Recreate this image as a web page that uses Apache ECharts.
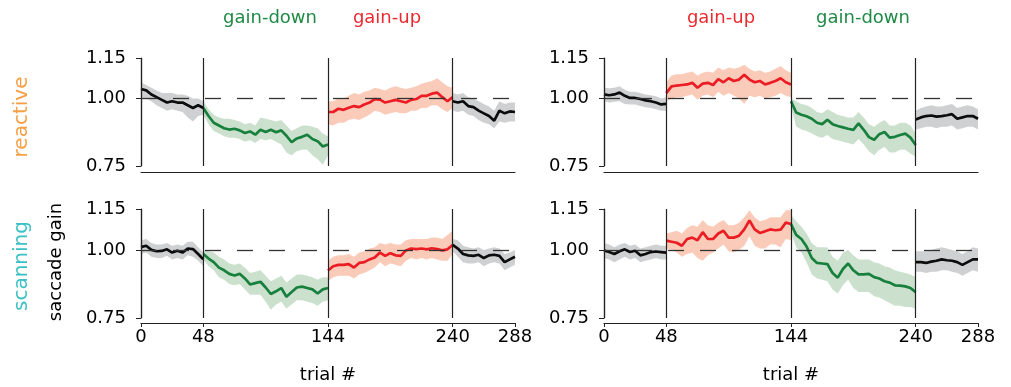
<!DOCTYPE html>
<html>
<head>
<meta charset="utf-8">
<script src="https://cdn.jsdelivr.net/npm/echarts@6/dist/echarts.min.js"></script>
<style>
  html, body { margin: 0; padding: 0; background: #fff; }
  #chart { width: 1011px; height: 387px; }
</style>
</head>
<body>
<div id="chart"></div>
<script>
// trial numbers of the sampled points in each block
const xBase1 = [0, 4, 8, 12, 16, 20, 24, 28, 32, 36, 40, 44, 48];
const xShift1 = [48, 52, 56, 60, 64, 68, 72, 76, 80, 84, 88, 92, 96, 100, 104, 108, 112, 116, 120, 124, 128, 132, 136, 140, 144];
const xShift2 = [144, 148, 152, 156, 160, 164, 168, 172, 176, 180, 184, 188, 192, 196, 200, 204, 208, 212, 216, 220, 224, 228, 232, 236, 240];
const xBase2 = [240, 244, 248, 252, 256, 260, 264, 268, 272, 276, 280, 284, 288];

const xTicks = [0, 48, 144, 240, 288];
const yTicks = [0.75, 1.00, 1.15];

// reactive, gain-down then gain-up (top left)
const rdBase1Mean = [1.035, 1.03, 1.015, 1.005, 0.995, 0.985, 0.99, 0.985, 0.985, 0.975, 0.965, 0.975, 0.965];
const rdBase1Lo = [1.005, 1.0, 0.99, 0.975, 0.965, 0.955, 0.96, 0.955, 0.95, 0.93, 0.915, 0.935, 0.94];
const rdBase1Hi = [1.06, 1.05, 1.04, 1.03, 1.02, 1.02, 1.02, 1.015, 1.015, 1.01, 1.0, 1.0, 0.99];
const rdDownMean = [0.965, 0.935, 0.91, 0.9, 0.89, 0.885, 0.888, 0.882, 0.872, 0.878, 0.866, 0.884, 0.876, 0.884, 0.875, 0.882, 0.862, 0.838, 0.852, 0.858, 0.866, 0.85, 0.842, 0.822, 0.83];
const rdDownLo = [0.94, 0.905, 0.88, 0.87, 0.86, 0.855, 0.855, 0.85, 0.84, 0.845, 0.835, 0.85, 0.845, 0.85, 0.84, 0.83, 0.8, 0.79, 0.805, 0.81, 0.81, 0.79, 0.775, 0.755, 0.79];
const rdDownHi = [0.99, 0.96, 0.94, 0.93, 0.925, 0.925, 0.92, 0.915, 0.905, 0.91, 0.9, 0.93, 0.925, 0.92, 0.915, 0.92, 0.9, 0.88, 0.89, 0.9, 0.9, 0.895, 0.89, 0.87, 0.86];
const rdUpMean = [0.95, 0.95, 0.962, 0.958, 0.966, 0.972, 0.968, 0.978, 0.985, 0.998, 0.996, 0.985, 0.99, 0.995, 0.99, 0.985, 0.995, 0.998, 1.01, 1.01, 1.018, 1.022, 1.005, 0.99, 1.005];
const rdUpLo = [0.905, 0.9, 0.91, 0.91, 0.92, 0.925, 0.92, 0.93, 0.94, 0.955, 0.95, 0.94, 0.945, 0.95, 0.945, 0.945, 0.955, 0.955, 0.965, 0.965, 0.975, 0.975, 0.96, 0.95, 0.965];
const rdUpHi = [0.99, 0.99, 1.0, 1.0, 1.01, 1.02, 1.015, 1.025, 1.03, 1.04, 1.035, 1.03, 1.04, 1.045, 1.04, 1.035, 1.04, 1.045, 1.055, 1.06, 1.065, 1.075, 1.06, 1.045, 1.04];
const rdBase2Mean = [0.99, 0.985, 0.99, 0.972, 0.968, 0.955, 0.945, 0.935, 0.918, 0.955, 0.945, 0.952, 0.95];
const rdBase2Lo = [0.955, 0.95, 0.955, 0.94, 0.935, 0.92, 0.91, 0.905, 0.89, 0.915, 0.91, 0.915, 0.915];
const rdBase2Hi = [1.02, 1.015, 1.02, 1.005, 1.0, 0.99, 0.98, 0.97, 0.955, 0.99, 0.98, 0.985, 0.985];

// reactive, gain-up then gain-down (top right)
const ruBase1Mean = [1.015, 1.012, 1.015, 1.022, 1.01, 1.002, 1.002, 0.998, 0.993, 0.99, 0.985, 0.978, 0.98];
const ruBase1Lo = [0.99, 0.985, 0.988, 0.99, 0.98, 0.978, 0.978, 0.972, 0.968, 0.965, 0.96, 0.955, 0.955];
const ruBase1Hi = [1.04, 1.038, 1.04, 1.045, 1.032, 1.025, 1.025, 1.02, 1.015, 1.012, 1.008, 1.0, 1.005];
const ruUpMean = [1.02, 1.045, 1.048, 1.05, 1.052, 1.058, 1.04, 1.055, 1.058, 1.05, 1.072, 1.06, 1.075, 1.065, 1.07, 1.088, 1.07, 1.06, 1.065, 1.052, 1.058, 1.065, 1.075, 1.06, 1.052];
const ruUpLo = [0.99, 1.0, 1.005, 1.005, 1.01, 1.015, 0.995, 1.01, 1.015, 1.005, 1.025, 1.01, 1.02, 1.01, 1.0, 0.98, 1.01, 1.005, 1.01, 1.0, 1.005, 1.01, 1.02, 1.01, 1.005];
const ruUpHi = [1.06, 1.085, 1.09, 1.09, 1.095, 1.1, 1.085, 1.095, 1.1, 1.095, 1.115, 1.105, 1.115, 1.11, 1.115, 1.125, 1.11, 1.1, 1.105, 1.095, 1.1, 1.11, 1.12, 1.105, 1.095];
const ruDownMean = [0.99, 0.948, 0.94, 0.934, 0.925, 0.91, 0.905, 0.921, 0.905, 0.898, 0.893, 0.888, 0.884, 0.908, 0.884, 0.857, 0.847, 0.868, 0.876, 0.855, 0.858, 0.865, 0.87, 0.855, 0.828];
const ruDownLo = [0.97, 0.895, 0.885, 0.88, 0.87, 0.86, 0.855, 0.865, 0.85, 0.845, 0.84, 0.835, 0.83, 0.85, 0.83, 0.805, 0.79, 0.81, 0.82, 0.8, 0.8, 0.81, 0.81, 0.795, 0.785];
const ruDownHi = [1.0, 0.99, 0.98, 0.975, 0.965, 0.95, 0.945, 0.96, 0.95, 0.94, 0.935, 0.93, 0.93, 0.95, 0.93, 0.905, 0.895, 0.91, 0.92, 0.9, 0.9, 0.91, 0.91, 0.9, 0.87];
const ruBase2Mean = [0.922, 0.93, 0.935, 0.937, 0.933, 0.935, 0.938, 0.942, 0.925, 0.93, 0.935, 0.935, 0.925];
const ruBase2Lo = [0.885, 0.89, 0.895, 0.895, 0.89, 0.895, 0.895, 0.9, 0.885, 0.89, 0.895, 0.895, 0.885];
const ruBase2Hi = [0.955, 0.965, 0.97, 0.975, 0.97, 0.97, 0.975, 0.98, 0.965, 0.97, 0.975, 0.97, 0.96];

// scanning, gain-down then gain-up (bottom left)
const sdBase1Mean = [1.01, 1.015, 1.0, 0.995, 0.996, 1.002, 0.99, 0.997, 0.99, 1.005, 1.003, 0.985, 0.965];
const sdBase1Lo = [0.985, 0.99, 0.975, 0.97, 0.97, 0.978, 0.965, 0.97, 0.965, 0.98, 0.975, 0.96, 0.94];
const sdBase1Hi = [1.035, 1.04, 1.025, 1.02, 1.02, 1.025, 1.015, 1.02, 1.015, 1.03, 1.03, 1.01, 0.99];
const sdDownMean = [0.985, 0.968, 0.955, 0.935, 0.925, 0.912, 0.906, 0.912, 0.895, 0.873, 0.878, 0.883, 0.862, 0.838, 0.848, 0.86, 0.828, 0.845, 0.862, 0.865, 0.86, 0.855, 0.84, 0.855, 0.86];
const sdDownLo = [0.965, 0.94, 0.925, 0.9, 0.89, 0.875, 0.87, 0.875, 0.855, 0.835, 0.835, 0.835, 0.81, 0.78, 0.8, 0.81, 0.785, 0.8, 0.815, 0.815, 0.81, 0.805, 0.795, 0.81, 0.815];
const sdDownHi = [1.0, 0.995, 0.99, 0.975, 0.965, 0.95, 0.945, 0.95, 0.935, 0.915, 0.92, 0.925, 0.905, 0.885, 0.895, 0.905, 0.88, 0.895, 0.91, 0.91, 0.905, 0.9, 0.89, 0.9, 0.9];
const sdUpMean = [0.924, 0.94, 0.945, 0.945, 0.948, 0.935, 0.952, 0.955, 0.965, 0.972, 0.99, 0.978, 0.988, 0.98, 0.978, 0.998, 1.005, 1.003, 1.005, 1.002, 1.006, 1.003, 0.998, 1.002, 1.018];
const sdUpLo = [0.885, 0.9, 0.905, 0.905, 0.905, 0.895, 0.91, 0.915, 0.925, 0.935, 0.955, 0.94, 0.95, 0.945, 0.94, 0.96, 0.97, 0.965, 0.97, 0.965, 0.97, 0.965, 0.96, 0.96, 0.985];
const sdUpHi = [0.96, 0.975, 0.98, 0.98, 0.985, 0.975, 0.99, 0.995, 1.005, 1.01, 1.025, 1.02, 1.025, 1.02, 1.02, 1.035, 1.04, 1.04, 1.04, 1.04, 1.045, 1.045, 1.04, 1.055, 1.07];
const sdBase2Mean = [1.018, 1.005, 0.985, 0.98, 0.978, 0.982, 0.97, 0.98, 0.982, 0.978, 0.955, 0.965, 0.975];
const sdBase2Lo = [0.995, 0.975, 0.955, 0.95, 0.95, 0.955, 0.94, 0.95, 0.955, 0.95, 0.925, 0.935, 0.945];
const sdBase2Hi = [1.04, 1.035, 1.015, 1.01, 1.005, 1.01, 1.0, 1.005, 1.01, 1.005, 0.985, 0.99, 1.0];

// scanning, gain-up then gain-down (bottom right)
const suBase1Mean = [0.998, 0.992, 0.985, 0.995, 1.002, 0.992, 0.997, 0.98, 0.985, 0.992, 0.994, 0.992, 0.99];
const suBase1Lo = [0.97, 0.965, 0.955, 0.965, 0.975, 0.965, 0.97, 0.955, 0.96, 0.965, 0.97, 0.965, 0.965];
const suBase1Hi = [1.025, 1.02, 1.01, 1.02, 1.025, 1.015, 1.02, 1.005, 1.01, 1.015, 1.02, 1.015, 1.015];
const suUpMean = [1.034, 1.03, 1.026, 1.015, 1.04, 1.045, 1.035, 1.065, 1.04, 1.04, 1.06, 1.07, 1.045, 1.045, 1.052, 1.075, 1.108, 1.075, 1.062, 1.068, 1.075, 1.072, 1.074, 1.1, 1.095];
const suUpLo = [1.005, 1.0, 0.99, 0.975, 0.985, 0.99, 0.97, 0.96, 0.98, 0.99, 1.005, 1.02, 0.995, 0.99, 1.0, 1.015, 1.05, 1.015, 1.005, 1.005, 1.02, 1.02, 1.01, 1.04, 1.035];
const suUpHi = [1.06, 1.065, 1.07, 1.06, 1.08, 1.09, 1.085, 1.11, 1.09, 1.085, 1.1, 1.11, 1.09, 1.09, 1.1, 1.12, 1.145, 1.12, 1.105, 1.11, 1.12, 1.12, 1.12, 1.145, 1.145];
const suDownMean = [1.095, 1.055, 1.04, 1.012, 0.97, 0.952, 0.95, 0.948, 0.915, 0.898, 0.93, 0.95, 0.925, 0.91, 0.91, 0.912, 0.9, 0.895, 0.885, 0.88, 0.87, 0.869, 0.866, 0.86, 0.845];
const suDownLo = [1.06, 1.01, 0.99, 0.955, 0.91, 0.895, 0.89, 0.885, 0.855, 0.84, 0.87, 0.89, 0.86, 0.845, 0.845, 0.845, 0.83, 0.825, 0.815, 0.805, 0.795, 0.795, 0.79, 0.79, 0.785];
const suDownHi = [1.13, 1.105, 1.085, 1.06, 1.025, 1.01, 1.01, 1.01, 0.975, 0.96, 0.99, 1.0, 0.98, 0.965, 0.965, 0.965, 0.955, 0.95, 0.94, 0.935, 0.925, 0.92, 0.915, 0.91, 0.9];
const suBase2Mean = [0.955, 0.955, 0.952, 0.957, 0.96, 0.965, 0.962, 0.96, 0.955, 0.945, 0.955, 0.965, 0.965];
const suBase2Lo = [0.92, 0.92, 0.915, 0.92, 0.92, 0.925, 0.925, 0.92, 0.915, 0.905, 0.915, 0.925, 0.92];
const suBase2Hi = [0.995, 0.995, 0.995, 1.0, 1.005, 1.01, 1.005, 1.0, 0.995, 0.985, 0.995, 1.01, 1.005];

const FONT = '"DejaVu Sans", sans-serif';
const colors = {
    base: { line: '#0c0c0c', band: 'rgba(140,142,146,0.42)' },
    down: { line: '#17803d', band: 'rgba(40,125,50,0.24)' },
    up:   { line: '#ec1c24', band: 'rgba(242,110,60,0.36)' }
};

function seg(kind, x, mean, lo, hi) {
    return { kind: kind, x: x, mean: mean, lo: lo, hi: hi };
}

const panels = [
    { left: 141, top: 58, height: 108, bottom: false, segs: [
        seg('base', xBase1, rdBase1Mean, rdBase1Lo, rdBase1Hi),
        seg('down', xShift1, rdDownMean, rdDownLo, rdDownHi),
        seg('up', xShift2, rdUpMean, rdUpLo, rdUpHi),
        seg('base', xBase2, rdBase2Mean, rdBase2Lo, rdBase2Hi)] },
    { left: 604, top: 58, height: 108, bottom: false, segs: [
        seg('base', xBase1, ruBase1Mean, ruBase1Lo, ruBase1Hi),
        seg('up', xShift1, ruUpMean, ruUpLo, ruUpHi),
        seg('down', xShift2, ruDownMean, ruDownLo, ruDownHi),
        seg('base', xBase2, ruBase2Mean, ruBase2Lo, ruBase2Hi)] },
    { left: 141, top: 209, height: 109, bottom: true, segs: [
        seg('base', xBase1, sdBase1Mean, sdBase1Lo, sdBase1Hi),
        seg('down', xShift1, sdDownMean, sdDownLo, sdDownHi),
        seg('up', xShift2, sdUpMean, sdUpLo, sdUpHi),
        seg('base', xBase2, sdBase2Mean, sdBase2Lo, sdBase2Hi)] },
    { left: 604, top: 209, height: 109, bottom: true, segs: [
        seg('base', xBase1, suBase1Mean, suBase1Lo, suBase1Hi),
        seg('up', xShift1, suUpMean, suUpLo, suUpHi),
        seg('down', xShift2, suDownMean, suDownLo, suDownHi),
        seg('base', xBase2, suBase2Mean, suBase2Lo, suBase2Hi)] }
];

const grid = [], xAxis = [], yAxis = [], series = [];

panels.forEach(function (p, i) {
    grid.push({ left: p.left, top: p.top, width: 374, height: p.height });
    xAxis.push({
        gridIndex: i, type: 'value', min: 0, max: 288,
        offset: p.bottom ? 5 : 6,
        axisLine: { show: true, onZero: false, lineStyle: { color: '#222', width: 1.2 } },
        splitLine: { show: false },
        axisTick: { show: p.bottom, customValues: xTicks, length: 4, lineStyle: { color: '#222' } },
        axisLabel: { show: p.bottom, customValues: xTicks, fontSize: 18, fontFamily: FONT, color: '#000', margin: 5 },
        name: p.bottom ? 'trial #' : '',
        nameLocation: 'middle', nameGap: 43,
        nameTextStyle: { fontSize: 18, fontFamily: FONT, color: '#000' }
    });
    yAxis.push({
        gridIndex: i, type: 'value', min: 0.75, max: 1.15, offset: 6,
        axisLine: { show: true, lineStyle: { color: '#222', width: 1.2 } },
        splitLine: { show: false },
        axisTick: { show: true, customValues: yTicks, length: 5, lineStyle: { color: '#222' } },
        axisLabel: { customValues: yTicks, fontSize: 18, fontFamily: FONT, color: '#000', margin: 9,
            formatter: function (v) { return v.toFixed(2); } }
    });

    // block boundaries and the gain = 1 reference
    series.push({
        type: 'line', xAxisIndex: i, yAxisIndex: i, data: [], z: 1, silent: true,
        markLine: {
            silent: true, symbol: ['none', 'none'], label: { show: false }, animation: false,
            data: [
                { xAxis: 0, lineStyle: { color: '#222', width: 1.2, type: 'solid' } },
                { xAxis: 48, lineStyle: { color: '#222', width: 1.2, type: 'solid' } },
                { xAxis: 144, lineStyle: { color: '#222', width: 1.2, type: 'solid' } },
                { xAxis: 240, lineStyle: { color: '#222', width: 1.2, type: 'solid' } },
                { yAxis: 1, lineStyle: { color: '#333', width: 1.3, type: [16, 16] } }
            ]
        }
    });

    // shaded bands
    series.push({
        type: 'custom', xAxisIndex: i, yAxisIndex: i, z: 2, silent: true, clip: false,
        data: p.segs.map(function (s) { return [s.x[0], s.mean[0]]; }),
        renderItem: function (params, api) {
            const s = p.segs[params.dataIndex];
            const pts = [];
            s.x.forEach(function (x, k) { pts.push(api.coord([x, s.hi[k]])); });
            for (let k = s.x.length - 1; k >= 0; k--) pts.push(api.coord([s.x[k], s.lo[k]]));
            return { type: 'polygon', shape: { points: pts }, style: { fill: colors[s.kind].band } };
        }
    });

    // mean traces
    p.segs.forEach(function (s) {
        series.push({
            type: 'line', xAxisIndex: i, yAxisIndex: i, z: 3, silent: true,
            symbol: 'none',
            lineStyle: { color: colors[s.kind].line, width: 2.7 },
            data: s.x.map(function (x, k) { return [x, s.mean[k]]; })
        });
    });
});

function label(text, x, y, color, size, rot) {
    return {
        type: 'text', x: x, y: y, rotation: rot || 0,
        style: { text: text, fill: color, font: size + 'px ' + FONT,
            textAlign: 'center', textVerticalAlign: 'middle', align: 'center', verticalAlign: 'middle' }
    };
}

const chart = echarts.init(document.getElementById('chart'));
chart.setOption({
    animation: false,
    textStyle: { fontFamily: FONT },
    grid: grid,
    xAxis: xAxis,
    yAxis: yAxis,
    series: series,
    graphic: [
        label('gain-down', 270, 18, '#1f8a45', 18),
        label('gain-up', 387, 18, '#ea2a30', 18),
        label('gain-up', 721, 18, '#ea2a30', 18),
        label('gain-down', 863, 18, '#1f8a45', 18),
        label('reactive', 22, 117, '#f5a047', 20, Math.PI / 2),
        label('scanning', 22, 266, '#3cc0c4', 20, Math.PI / 2),
        label('saccade gain', 56, 262, '#000', 18, Math.PI / 2)
    ]
});
</script>
</body>
</html>
